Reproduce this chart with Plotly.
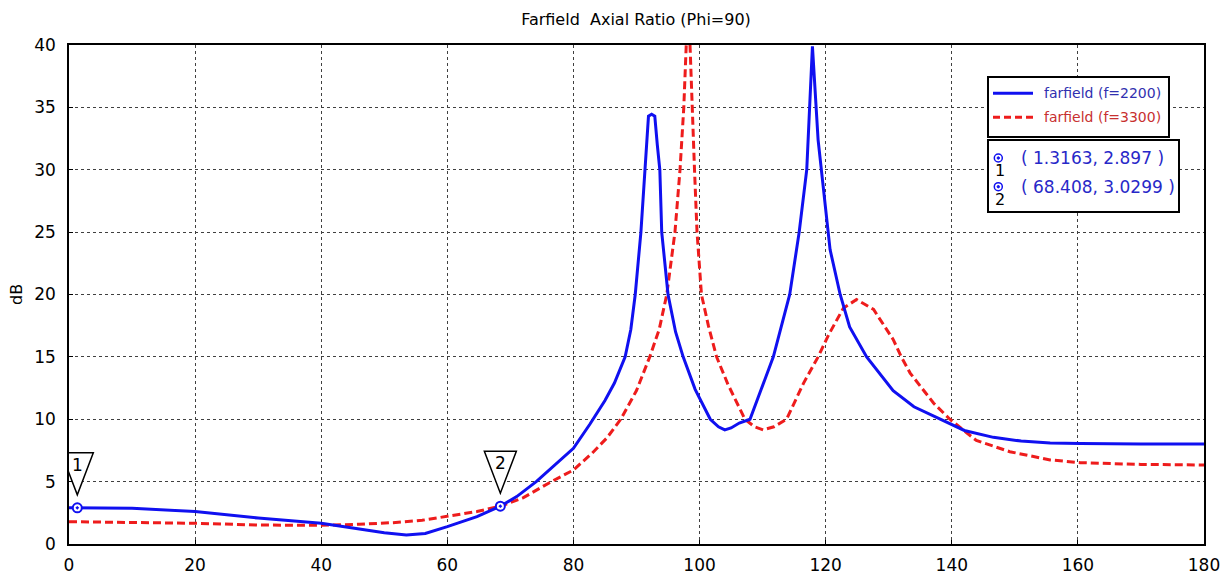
import plotly.graph_objects as go

# ---------------- data ----------------
blue_x = [0, 1.3163, 10, 20, 30, 40, 46, 50, 53.5, 56.5, 60, 64.7, 68.408, 71, 74.1, 77, 80,
          82.6, 85, 86.5, 88.2, 89.1, 89.8, 90.7, 91.4, 91.9, 92.4, 92.9, 93.3, 93.7, 94.0, 95.0, 96.2,
          97.4, 99.3, 101.7, 103, 104, 105, 106.3, 108, 111.7, 114.3, 115.8, 117, 117.5, 117.9,
          118.8, 120.7, 122.3, 123.8, 126.5, 130.7, 134, 138.1, 142, 146.6, 151, 155.6, 160.4,
          170, 180]
blue_y = [2.9, 2.897, 2.86, 2.6, 2.08, 1.66, 1.2, 0.9, 0.72, 0.85, 1.39, 2.2, 3.0299, 3.8, 5.0, 6.3, 7.67,
          9.6, 11.5, 12.9, 15.0, 17.2, 20.0, 25.0, 30.0, 34.3, 34.45, 34.3, 32.0, 30.0, 25.0, 20.0, 17.0,
          15.0, 12.4, 10.0, 9.4, 9.15, 9.3, 9.7, 10.0, 15.0, 20.0, 25.0, 30.0, 35.0, 39.9,
          32.4, 23.6, 20.0, 17.4, 15.0, 12.3, 11.0, 10.0, 9.1, 8.55, 8.25, 8.1, 8.05,
          8.02, 8.02]

red_x = [0, 10, 20, 30, 40, 46, 51.4, 56, 60, 64.7, 68.408, 72, 76.5, 80, 83, 85.3, 87.5, 90,
         92.1, 93.6, 94.8, 96.1, 96.9, 97.5, 98.2, 98.8, 99.2, 99.6, 100.3, 101.4, 102.7, 104.5,
         107.2, 108.7, 110.1, 111.8, 113.8, 116.5, 118.8, 120.5, 122.8, 124.9, 127.6, 130.7, 132,
         133.4, 137.1, 139.7, 143.9, 149.2, 155.6, 160.4, 170, 180]
red_y = [1.79, 1.72, 1.66, 1.52, 1.5, 1.58, 1.71, 1.9, 2.2, 2.6, 3.03, 3.7, 5.0, 5.93, 7.3, 8.5, 10.0, 12.3,
         15.0, 17.2, 20.0, 25.0, 30.0, 35.0, 44.0, 35.0, 30.0, 25.0, 20.0, 17.5, 15.0, 12.8,
         10.0, 9.4, 9.15, 9.4, 10.0, 12.9, 15.0, 16.8, 18.9, 19.6, 18.8, 16.4, 15.0,
         13.7, 11.3, 10.0, 8.3, 7.4, 6.74, 6.52, 6.38, 6.33]

markers_x = [1.3163, 68.408]
markers_y = [2.897, 3.0299]
marker_labels = ["1", "2"]
marker_texts = ["( 1.3163, 2.897 )", "( 68.408, 3.0299 )"]

series_names = ["farfield (f=2200)", "farfield (f=3300)"]
x_ticks = [0, 20, 40, 60, 80, 100, 120, 140, 160, 180]
y_ticks = [0, 5, 10, 15, 20, 25, 30, 35, 40]

BLUE = "#1010f0"
RED = "#ee1c1c"
FONT = "DejaVu Sans"

# ---------------- figure ----------------
# the page body has an 8px margin; compensate so the plot lands where the reference is
OFF = 8
SW, SH = 1229, 580                 # screen size
W, H = SW - OFF, SH - OFF          # figure size
PL, PT, PR, PB = 69, 45, 1204, 544  # plot area in screen pixels
L, T = PL - OFF, PT - OFF
R, B = OFF + W - PR, OFF + H - PB
PW, PH = PR - PL, PB - PT


def px2paper(px, py):
    return (px - PL) / PW, (PB - py) / PH


fig = go.Figure()
fig.add_trace(go.Scatter(x=red_x, y=red_y, mode="lines",
                         line=dict(color=RED, width=3, dash="8px,4px"), name=series_names[1]))
fig.add_trace(go.Scatter(x=blue_x, y=blue_y, mode="lines",
                         line=dict(color=BLUE, width=3), name=series_names[0]))
fig.add_trace(go.Scatter(x=markers_x, y=markers_y, mode="markers",
                         marker=dict(symbol="circle-dot", size=9, color="white",
                                     line=dict(color=BLUE, width=2)),
                         showlegend=False))

shapes = []
annotations = []

# marker triangles with numbers
for mx, my, lab in zip(markers_x, markers_y, marker_labels):
    shapes.append(dict(type="path", xref="x", yref="y", xsizemode="pixel", ysizemode="pixel",
                       xanchor=mx, yanchor=my,
                       path="M -16,55 L 16,55 L 0,13 Z",
                       line=dict(color="black", width=1.5), fillcolor="white", layer="above"))
    annotations.append(dict(x=mx, y=my, xref="x", yref="y", text=lab, showarrow=False,
                            yshift=43, font=dict(family=FONT, size=17, color="black")))

# legend box
x0, y1 = px2paper(988, 77)
x1, y0 = px2paper(1169, 137)
shapes.append(dict(type="rect", xref="paper", yref="paper", x0=x0, x1=x1, y0=y0, y1=y1,
                   line=dict(color="black", width=2), fillcolor="white", layer="above"))
for i, (col, dash, nm) in enumerate([(BLUE, "solid", series_names[0]), (RED, "7px,4px", series_names[1])]):
    ly = 93.3 + 24 * i
    sx0, sy = px2paper(993, ly)
    sx1, _ = px2paper(1033, ly)
    shapes.append(dict(type="line", xref="paper", yref="paper", x0=sx0, x1=sx1, y0=sy, y1=sy,
                       line=dict(color=col, width=3, dash=dash), layer="above"))
    tx, _ = px2paper(1042, ly)
    tcol = "#3030b0" if i == 0 else "#c83030"
    annotations.append(dict(x=tx, y=sy, xref="paper", yref="paper", text=nm, showarrow=False,
                            xanchor="left", yanchor="middle",
                            font=dict(family=FONT, size=14, color=tcol)))

# marker value box
x0, y1 = px2paper(988, 140)
x1, y0 = px2paper(1179, 212)
shapes.append(dict(type="rect", xref="paper", yref="paper", x0=x0, x1=x1, y0=y0, y1=y1,
                   line=dict(color="black", width=2), fillcolor="white", layer="above"))
for i, (lab, txt) in enumerate(zip(marker_labels, marker_texts)):
    ry = 158 + 28.7 * i
    cx, cy = px2paper(998.3, ry)
    shapes.append(dict(type="circle", xref="paper", yref="paper", xsizemode="pixel", ysizemode="pixel",
                       xanchor=cx, yanchor=cy, x0=-4, x1=4, y0=-4, y1=4,
                       line=dict(color=BLUE, width=1.5), fillcolor="white", layer="above"))
    shapes.append(dict(type="circle", xref="paper", yref="paper", xsizemode="pixel", ysizemode="pixel",
                       xanchor=cx, yanchor=cy, x0=-1.2, x1=1.2, y0=-1.2, y1=1.2,
                       line=dict(color=BLUE, width=1), fillcolor=BLUE, layer="above"))
    sx, sy = px2paper(1000, ry + 12.5)
    annotations.append(dict(x=sx, y=sy, xref="paper", yref="paper", text=lab, showarrow=False,
                            xanchor="center", yanchor="middle",
                            font=dict(family=FONT, size=16, color="black")))
    tx, ty = px2paper(1019, ry)
    annotations.append(dict(x=tx, y=ty, xref="paper", yref="paper", text=txt, showarrow=False,
                            xanchor="left", yanchor="middle",
                            font=dict(family=FONT, size=17, color="#2828c8")))

# y-axis title
ax_, ay_ = px2paper(16, 295)
annotations.append(dict(x=ax_, y=ay_, xref="paper", yref="paper", text="dB", showarrow=False,
                        textangle=-90, xanchor="center", yanchor="middle",
                        font=dict(family=FONT, size=16, color="black")))

grid = dict(showgrid=True, gridcolor="#404040", gridwidth=1, griddash="3px,3px",
            showline=True, linecolor="black", linewidth=1.5, mirror=True,
            ticks="inside", ticklen=4, tickcolor="black", zeroline=False,
            tickfont=dict(family=FONT, size=17, color="black"))

fig.update_layout(
    width=W, height=H,
    margin=dict(l=L, r=R, t=T, b=B, autoexpand=False),
    paper_bgcolor="white", plot_bgcolor="white",
    showlegend=False,
    title=dict(text="Farfield\u00a0 Axial Ratio (Phi=90)", x=(636 - OFF) / W, xanchor="center",
               y=1 - (19 - OFF) / H, yanchor="middle",
               font=dict(family=FONT, size=16, color="black")),
    xaxis=dict(range=[0, 180], tickvals=x_ticks, ticklabelstandoff=5, **grid),
    yaxis=dict(range=[0, 40], tickvals=y_ticks, ticklabelstandoff=8, **grid),
    shapes=shapes, annotations=annotations,
)

fig.write_html("out.html")
